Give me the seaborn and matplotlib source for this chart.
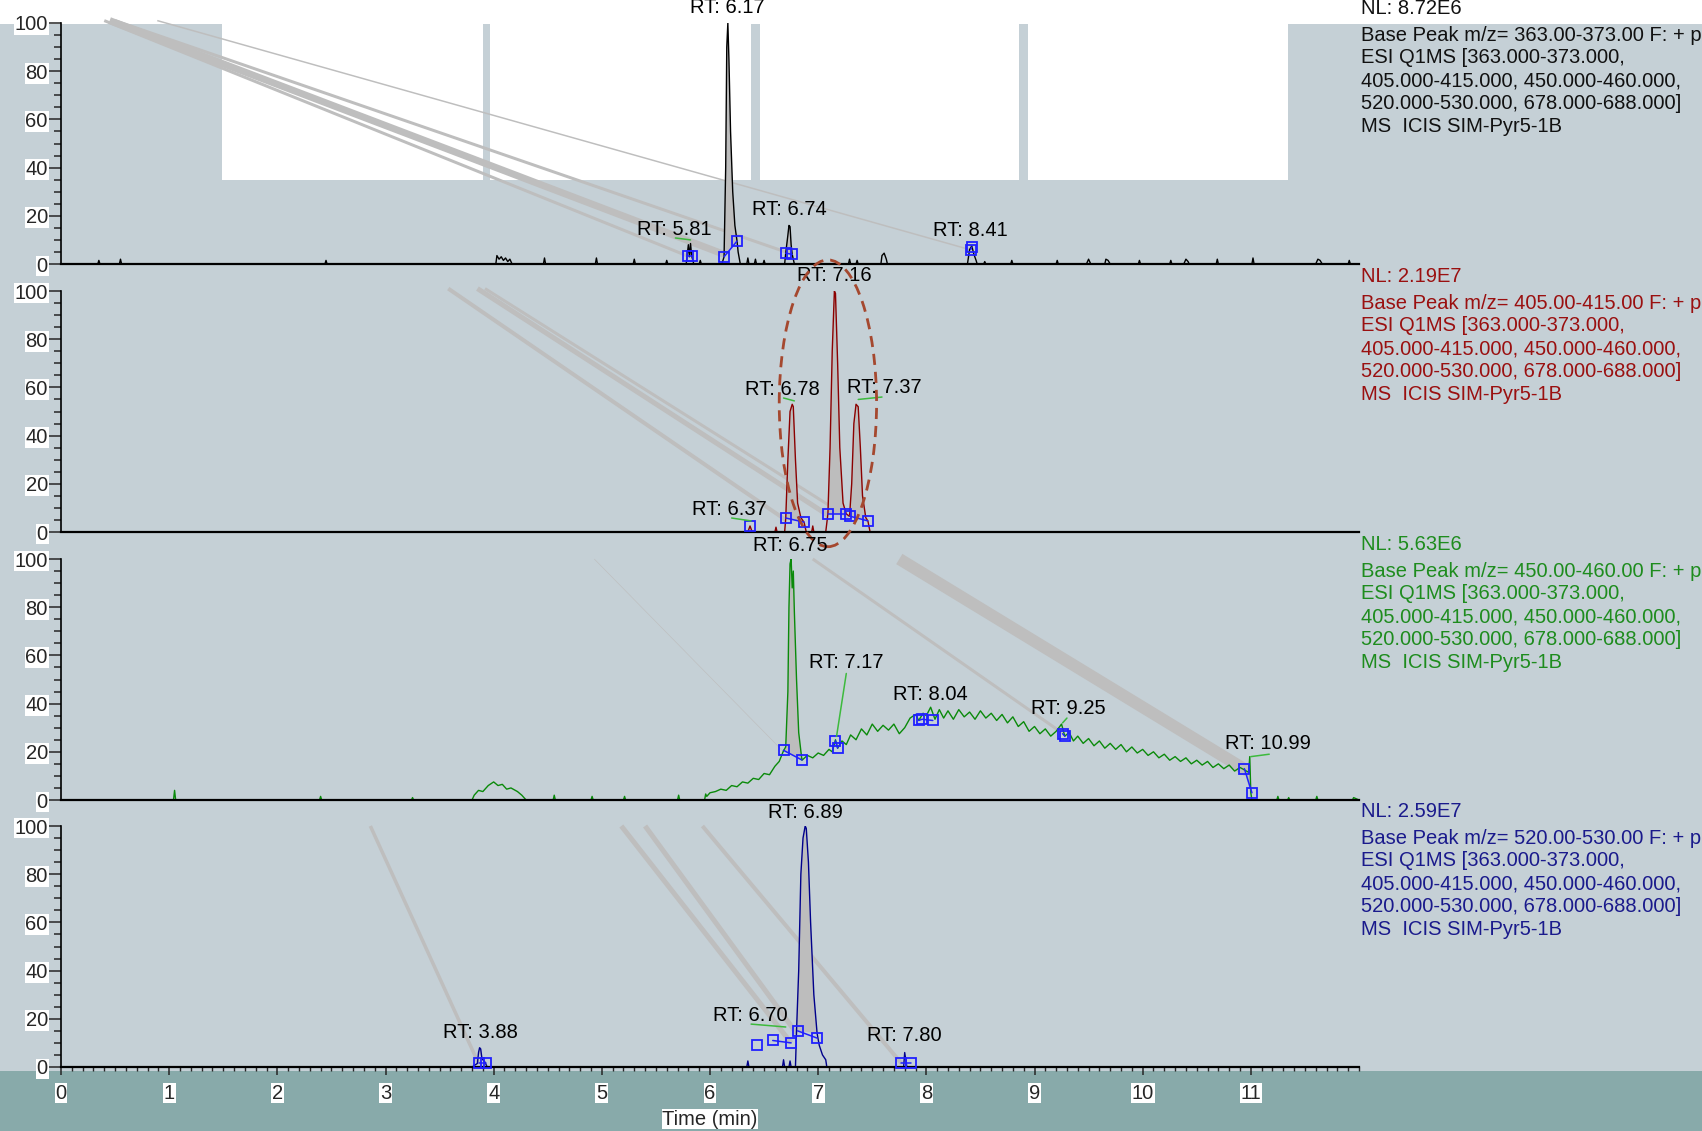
import numpy as np
import matplotlib
matplotlib.use("Agg")
import matplotlib.pyplot as plt
import seaborn as sns
from matplotlib.patches import Ellipse, Rectangle
from matplotlib.ticker import MultipleLocator

# ---------------- data ----------------
# panel 1: m/z 363-373 (black)
t1 = [0.00, 0.34, 0.35, 0.36, 0.54, 0.55, 0.56, 2.44, 2.45, 2.46,
      4.02, 4.03, 4.05, 4.07, 4.09, 4.11, 4.13, 4.15, 4.17,
      4.46, 4.47, 4.48, 4.94, 4.95, 4.96, 5.29, 5.30, 5.31, 5.59, 5.60, 5.61,
      5.78, 5.80, 5.81, 5.82, 5.83, 5.85, 5.90, 5.91, 5.92,
      6.11, 6.13, 6.145, 6.155, 6.165, 6.175, 6.19, 6.21, 6.23, 6.25, 6.26, 6.28,
      6.34, 6.35, 6.36, 6.41, 6.42, 6.43, 6.49, 6.50, 6.51,
      6.69, 6.70, 6.72, 6.73, 6.74, 6.75, 6.76, 6.78,
      7.28, 7.29, 7.30, 7.35, 7.36, 7.37, 7.58, 7.59, 7.61, 7.63, 7.64,
      8.38, 8.40, 8.42, 8.44, 8.46, 8.47, 8.53, 8.54, 8.55,
      8.78, 8.79, 8.80, 9.20, 9.21, 9.22, 9.48, 9.50, 9.52, 9.65, 9.66, 9.68, 9.70,
      9.96, 9.97, 9.98, 10.25, 10.26, 10.27, 10.38, 10.40, 10.42, 10.43,
      10.68, 10.69, 10.70, 11.01, 11.02, 11.03, 11.60, 11.62, 11.64, 11.66,
      11.90, 11.91, 11.92, 12.0]
i1 = [0, 0, 1.5, 0, 0, 2, 0, 0, 1.5, 0,
      0, 3.5, 2, 3, 1.5, 2.5, 1, 2, 0,
      0, 2.5, 0, 0, 2.5, 0, 0, 2, 0, 0, 1.5, 0,
      0, 8, 3, 8.5, 3.5, 0, 0, 1.5, 0,
      0, 3, 40, 90, 100, 85, 55, 30, 16, 9.5, 5, 0,
      0, 2.5, 0, 0, 2, 0, 0, 1.5, 0,
      0, 4.5, 12, 16, 15.5, 8, 4, 0,
      0, 2, 0, 0, 1.5, 0, 0, 3.5, 4.5, 2, 0,
      0, 6, 7.5, 4, 1.5, 0, 0, 1, 0,
      0, 1.5, 0, 0, 1.5, 0, 0, 2, 0, 0, 2, 1.5, 0,
      0, 1.5, 0, 0, 1.5, 0, 0, 2, 1, 0,
      0, 2, 0, 0, 2.5, 0, 0, 2, 1.5, 0,
      0, 1.5, 0, 0]

# panel 2: m/z 405-415 (dark red)
t2 = [0.00, 6.35, 6.37, 6.39, 6.60, 6.61, 6.62,
      6.69, 6.70, 6.72, 6.74, 6.76, 6.77, 6.79, 6.81, 6.84, 6.87, 6.89,
      6.94, 6.95, 6.96,
      7.07, 7.09, 7.11, 7.13, 7.15, 7.16, 7.18, 7.20, 7.23, 7.26,
      7.29, 7.31, 7.33, 7.35, 7.37, 7.39, 7.41, 7.44, 7.46, 7.48, 12.0]
i2 = [0, 0, 2.5, 0, 0, 2, 0,
      0, 5.5, 30, 50, 53, 52, 30, 12, 6, 4, 0,
      0, 2.5, 0,
      0, 7.5, 35, 75, 100, 99, 70, 35, 12, 7.5,
      6.5, 20, 45, 53, 52, 35, 15, 6, 4.5, 0, 0]

# panel 3: m/z 450-460 (green)
t3 = [0.00, 1.04, 1.05, 1.06, 2.39, 2.40, 2.41, 3.24, 3.25, 3.26,
      3.80, 3.82, 3.86, 3.90, 3.95, 4.00, 4.04, 4.08, 4.12, 4.16, 4.22, 4.26, 4.30,
      4.55, 4.56, 4.57, 4.90, 4.91, 4.92, 5.20, 5.21, 5.22, 5.70, 5.71, 5.72,
      5.95, 5.96, 5.97, 6.00, 6.05, 6.10, 6.15, 6.20, 6.25, 6.30, 6.35, 6.40,
      6.45, 6.50, 6.55, 6.60, 6.64, 6.68, 6.70, 6.72, 6.73, 6.74, 6.75, 6.76,
      6.77, 6.78, 6.80, 6.82, 6.85, 6.90, 6.95, 7.00, 7.05, 7.10, 7.13, 7.16,
      7.18, 7.22, 7.26, 7.30, 7.35, 7.40, 7.45, 7.50, 7.55, 7.60, 7.65, 7.70,
      7.75, 7.80, 7.85, 7.90, 7.93, 7.97, 8.00, 8.04, 8.08, 8.12, 8.16, 8.20,
      8.25, 8.30, 8.35, 8.40, 8.45, 8.50, 8.55, 8.60, 8.65, 8.70, 8.75, 8.80,
      8.85, 8.90, 8.95, 9.00, 9.05, 9.10, 9.15, 9.20, 9.25, 9.28, 9.32, 9.36,
      9.40, 9.45, 9.50, 9.55, 9.60, 9.65, 9.70, 9.75, 9.80, 9.85, 9.90, 9.95,
      10.00, 10.05, 10.10, 10.15, 10.20, 10.25, 10.30, 10.35, 10.40, 10.45,
      10.50, 10.55, 10.60, 10.65, 10.70, 10.75, 10.80, 10.85, 10.90, 10.94,
      10.98, 10.99, 11.00, 11.01, 11.24, 11.25, 11.26, 11.34, 11.35, 11.36,
      11.60, 11.61, 11.62, 11.94, 11.95, 12.0]
i3 = [0, 0, 4, 0, 0, 1.5, 0, 0, 1, 0,
      0, 2, 4, 3.5, 6, 7.5, 6, 6.5, 4.5, 5, 3.5, 2, 0,
      0, 2, 0, 0, 1.5, 0, 0, 1.5, 0, 0, 2, 0,
      0, 2.5, 1.5, 3, 3.5, 4.5, 4, 6, 5.5, 7.5, 7, 9,
      8.5, 11, 10.5, 14, 16, 20.5, 22, 45, 80, 98, 100, 88,
      95, 78, 50, 28, 16.5, 18.5, 17.5, 19.5, 18.5, 21, 20, 25,
      21.5, 24.5, 23, 27, 25, 29.5, 27, 31.5, 28.5, 31, 29, 31.5,
      27.5, 30, 34, 35.5, 33, 36, 35, 38.5, 33.5, 37.5, 34, 37,
      33.5, 37.5, 34.5, 36.5, 33.5, 37, 34, 36, 33, 35.5, 32, 34.5,
      30.5, 32.5, 28.5, 30.5, 27.5, 29.5, 26.5, 28.5, 31.5, 26.5, 28, 24.5,
      26.5, 23.5, 25.5, 22.5, 24.5, 21.5, 23.5, 21, 23, 20, 22, 19.5,
      21, 18.5, 20, 17.5, 19, 16.5, 18, 16, 17.5, 15,
      16.5, 14.5, 16, 13.5, 15, 13, 14.5, 12, 13.5, 12.5,
      11.5, 18, 3, 0, 0, 1.5, 0, 0, 1, 0,
      0, 1.5, 0, 0, 1, 0]

# panel 4: m/z 520-530 (navy)
t4 = [0.00, 3.80, 3.85, 3.86, 3.87, 3.88, 3.89, 3.90, 3.92, 3.94,
      6.34, 6.35, 6.36, 6.67, 6.68, 6.69, 6.73, 6.74, 6.75,
      6.79, 6.80, 6.82, 6.84, 6.86, 6.88, 6.89, 6.91, 6.93, 6.96, 6.99,
      7.01, 7.04, 7.07, 7.08, 7.79, 7.80, 7.81, 7.82, 12.0]
i4 = [0, 0, 1.5, 6, 8, 7.5, 4, 3, 2, 0,
      0, 2.5, 0, 0, 3, 0, 0, 2.5, 0,
      0, 15, 40, 80, 95, 100, 99, 85, 60, 30, 14,
      9, 5, 3, 0, 0, 6, 3, 0, 0]

nl_values = ["NL: 8.72E6", "NL: 2.19E7", "NL: 5.63E6", "NL: 2.59E7"]
mz_ranges = ["363.00-373.00", "405.00-415.00", "450.00-460.00", "520.00-530.00"]
scan_lines = ["ESI Q1MS [363.000-373.000,",
              "405.000-415.000, 450.000-460.000,",
              "520.000-530.000, 678.000-688.000]",
              "MS  ICIS SIM-Pyr5-1B"]

# peak labels: text, x, y (label centre)
rt1 = [("RT: 6.17", 6.16, 106.3), ("RT: 5.81", 5.67, 14.5),
       ("RT: 6.74", 6.73, 22.6), ("RT: 8.41", 8.41, 14.0)]
rt2 = [("RT: 7.16", 7.15, 106.3), ("RT: 6.78", 6.67, 59.0),
       ("RT: 7.37", 7.61, 59.9), ("RT: 6.37", 6.18, 9.5)]
rt3 = [("RT: 6.75", 6.74, 105.8), ("RT: 7.17", 7.26, 57.0),
       ("RT: 8.04", 8.04, 43.9), ("RT: 9.25", 9.31, 38.1),
       ("RT: 10.99", 11.16, 23.3)]
rt4 = [("RT: 6.89", 6.88, 105.8), ("RT: 3.88", 3.88, 14.3),
       ("RT: 6.70", 6.37, 21.5), ("RT: 7.80", 7.80, 13.0)]

# integration boundary boxes (groups joined by a line)
box1_x = [[5.80, 5.83], [6.13, 6.25], [6.70, 6.76], [8.41, 8.42]]
box1_y = [[3.5, 3.5], [3.0, 9.5], [4.5, 4.0], [6.0, 7.0]]
box2_x = [[6.37], [6.70, 6.87], [7.09, 7.26], [7.29, 7.46]]
box2_y = [[2.5], [5.8, 4.1], [7.5, 7.5], [6.6, 4.6]]
box3_x = [[6.68, 6.85], [7.16, 7.18], [7.93, 7.96, 8.06], [9.26, 9.28], [10.94, 11.01]]
box3_y = [[20.6, 16.6], [24.5, 21.5], [33.0, 33.5, 33.0], [27.5, 26.5], [13.0, 3.0]]
box4_x = [[3.86, 3.93], [6.43], [6.58, 6.75], [6.81, 6.99], [7.77, 7.86]]
box4_y = [[1.5, 1.5], [9.0], [11.0, 10.0], [15.0, 12.0], [1.5, 1.5]]

# shaded peak areas (start, end)
fill1 = [(6.13, 6.25), (6.70, 6.76)]
fill2 = [(6.70, 6.87), (7.09, 7.26), (7.29, 7.46)]
fill3 = [(6.68, 6.85), (10.94, 11.01)]
fill4 = [(6.80, 6.99), (3.86, 3.93)]

# green leader lines (x0, x1, y0, y1)
lead1 = [(5.68, 5.82, 10.8, 10.0)]
lead2 = [(6.68, 6.78, 55.6, 54.4), (7.37, 7.59, 55.0, 56.0), (6.20, 6.38, 5.8, 4.6)]
lead3 = [(7.26, 7.17, 52.5, 26.4), (9.30, 9.26, 34.0, 32.0), (11.0, 11.17, 18.0, 19.0)]
lead4 = [(6.38, 6.70, 17.8, 16.6)]

# grey streaks across the screen capture (x0, y0, x1, y1, width px)
streak1 = [(0.89, 101, 8.40, 6.0, 1.5), (0.50, 101, 6.70, 5.0, 3),
           (0.45, 101, 6.13, 4.0, 7), (0.40, 101, 5.81, 3.0, 3)]
streak2 = [(3.58, 101, 6.70, 5.0, 4), (3.85, 101, 7.09, 7.0, 5), (3.92, 101, 7.28, 6.0, 3)]
streak3 = [(4.93, 100, 6.68, 20.0, 0.6), (6.95, 100, 9.26, 27.7, 3), (7.75, 100, 10.97, 12.0, 12)]
streak4 = [(2.86, 100, 3.86, 1.5, 3.5), (5.18, 100, 6.75, 10.0, 5),
           (5.40, 100, 6.80, 14.0, 5), (5.93, 100, 7.77, 1.5, 4)]

# white patches in the top panel (x0, x1), from y=35 up to 100
white_x = [(1.49, 3.90), (3.97, 6.38), (6.46, 8.86), (8.94, 11.34)]

# ---------------- drawing ----------------
sns.set_style("white")
plt.rcParams['font.family'] = ['Liberation Sans', 'DejaVu Sans']

BG = '#C5D0D6'
TEAL = '#88AAAA'
BLUE = '#2020FF'
FS = 14.5

W, H = 1702, 1131
fig = plt.figure(figsize=(W / 100, H / 100), dpi=100)
fig.patch.set_facecolor(BG)
fig.add_artist(Rectangle((0, 1 - 24 / H), 1, 24 / H, transform=fig.transFigure,
                         facecolor='white', edgecolor='none', zorder=-1))
fig.add_artist(Rectangle((0, 0), 1, 1 - 1071 / H, transform=fig.transFigure,
                         facecolor=TEAL, edgecolor='none', zorder=-1))

panels = [
    dict(t=t1, i=i1, line='#000000', txt='#111111', rt=rt1, bx=box1_x, by=box1_y,
         fills=fill1, lead=lead1, streaks=streak1, base=264),
    dict(t=t2, i=i2, line='#8B0000', txt='#9A1010', rt=rt2, bx=box2_x, by=box2_y,
         fills=fill2, lead=lead2, streaks=streak2, base=532),
    dict(t=t3, i=i3, line='#0A8A0A', txt='#1E8C1E', rt=rt3, bx=box3_x, by=box3_y,
         fills=fill3, lead=lead3, streaks=streak3, base=800),
    dict(t=t4, i=i4, line='#00008B', txt='#1A1A8C', rt=rt4, bx=box4_x, by=box4_y,
         fills=fill4, lead=lead4, streaks=streak4, base=1067),
]

left, right = 61 / W, 1359 / W
axes = []
for k, p in enumerate(panels):
    ax = fig.add_axes([left, 1 - p['base'] / H, right - left, 241 / H])
    ax.set_facecolor('none')
    ax.set_xlim(0, 12)
    ax.set_ylim(0, 100)
    axes.append(ax)

    if k == 0:
        for x0, x1 in white_x:
            ax.add_patch(Rectangle((x0, 35), x1 - x0, 65, facecolor='white',
                                   edgecolor='none', zorder=0.5, clip_on=False))

    for x0, y0, x1, y1, w in p['streaks']:
        ax.plot([x0, x1], [y0, y1], color='#BEBEBE', lw=w * 0.72,
                solid_capstyle='butt', zorder=1, clip_on=False)

    t = np.array(p['t'])
    i = np.array(p['i'])
    for a, b in p['fills']:
        m = (t > a) & (t < b)
        fx = np.concatenate([[a], t[m], [b]])
        fy = np.concatenate([[np.interp(a, t, i)], i[m], [np.interp(b, t, i)]])
        ax.fill(fx, fy, color='#BDBDBD', lw=0, zorder=1.5)

    sns.lineplot(x=p['t'], y=p['i'], sort=False, estimator=None, color=p['line'],
                 linewidth=1.0, ax=ax, zorder=2)

    for xs, ys in zip(p['bx'], p['by']):
        ax.plot(xs, ys, color=BLUE, lw=1.1, marker='s', ms=7.5, mfc='none',
                mec=BLUE, mew=1.3, zorder=3, clip_on=False)

    for x0, x1, y0, y1 in p['lead']:
        ax.plot([x0, x1], [y0, y1], color='#3DBA3D', lw=1.1, zorder=3)

    for label, x, y in p['rt']:
        ax.text(x, y, label, ha='center', va='center', fontsize=FS, color='black',
                zorder=4)

    # header block on the right
    tr = ax.get_yaxis_transform()
    ax.text(1.0015, 106.0, nl_values[k], transform=tr, ha='left', va='center',
            fontsize=FS, color=p['txt'])
    lines = ["Base Peak m/z= " + mz_ranges[k] + " F: + p"] + scan_lines
    for j, s in enumerate(lines):
        ax.text(1.0015, 95.0 - 9.5 * j, s, transform=tr, ha='left', va='center',
                fontsize=FS, color=p['txt'])

    # axes styling
    for side in ['top', 'right']:
        ax.spines[side].set_visible(False)
    ax.spines['left'].set_linewidth(1.2)
    ax.spines['bottom'].set_linewidth(1.6)
    ax.spines['left'].set_color('black')
    ax.spines['bottom'].set_color('black')
    ax.set_yticks([0, 20, 40, 60, 80, 100])
    ax.yaxis.set_minor_locator(MultipleLocator(5))
    ax.tick_params(axis='y', which='major', direction='out', length=8.5, width=1.1,
                   pad=1, labelsize=FS, left=True)
    ax.tick_params(axis='y', which='minor', direction='out', length=5, width=1.1,
                   left=True)
    for lbl in ax.get_yticklabels():
        lbl.set_bbox(dict(facecolor='white', edgecolor='none', pad=0.6))
    ax.set_xlabel('')
    ax.set_ylabel('')
    if k < 3:
        ax.tick_params(axis='x', which='both', bottom=False, labelbottom=False)

# panel 2 highlight ellipse
axes[1].add_patch(Ellipse((7.09, 53.4), 0.90, 119, fill=False, ec='#A5482F',
                          ls=(0, (4, 2.5)), lw=2.0, clip_on=False, zorder=5))

axb = axes[3]
axb.set_xticks(range(0, 12))
axb.xaxis.set_minor_locator(MultipleLocator(0.1))
axb.tick_params(axis='x', which='major', direction='out', length=6, width=1.1,
                pad=6, labelsize=FS, bottom=True)
axb.tick_params(axis='x', which='minor', direction='out', length=3, width=1,
                bottom=True)
for lbl in axb.get_xticklabels():
    lbl.set_bbox(dict(facecolor='white', edgecolor='none', pad=0.6))
axb.set_xlabel('Time (min)', fontsize=FS, labelpad=5,
               bbox=dict(facecolor='white', edgecolor='none', pad=0.6))

fig.savefig('out.png', dpi=100, facecolor=fig.get_facecolor())
